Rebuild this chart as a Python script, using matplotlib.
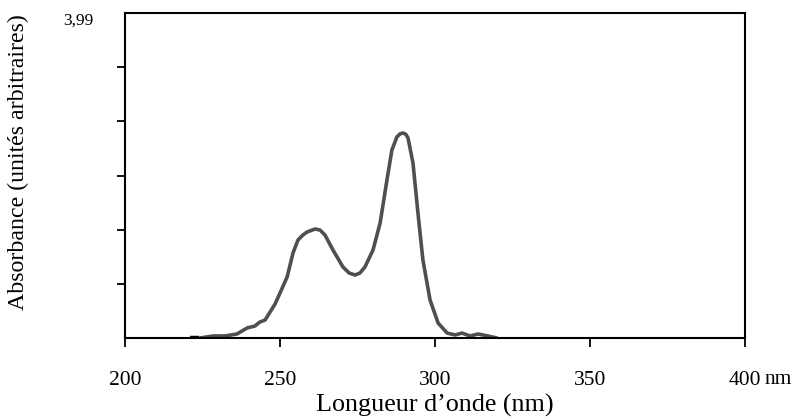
import matplotlib
matplotlib.use("Agg")
import matplotlib.pyplot as plt
from matplotlib.transforms import blended_transform_factory

# Data
wavelength = [224.2, 228.4, 232.3, 236.1, 239.4, 241.9, 243.5, 245.2, 246.8, 248.4,
              250.0, 252.3, 254.2, 255.8, 257.4, 258.7, 261.3, 262.9, 264.5, 267.1,
              270.3, 272.3, 274.2, 275.8, 277.4, 280.0, 282.3, 284.5, 286.1, 287.7,
              288.7, 289.7, 290.6, 291.3, 292.9, 294.5, 296.1, 298.4, 301.0, 303.9,
              306.5, 308.7, 311.3, 313.9, 317.1, 320.0]
absorbance = [0.000, 0.025, 0.025, 0.049, 0.123, 0.147, 0.196, 0.221, 0.319, 0.417,
              0.552, 0.749, 1.044, 1.203, 1.265, 1.301, 1.338, 1.326, 1.265, 1.080,
              0.872, 0.798, 0.773, 0.798, 0.872, 1.080, 1.412, 1.940, 2.308, 2.468,
              2.505, 2.517, 2.500, 2.455, 2.148, 1.535, 0.958, 0.467, 0.184, 0.061,
              0.037, 0.061, 0.025, 0.049, 0.025, 0.000]
start_mark_x = [221.0, 223.8]
start_mark_y = [0.0, 0.0]

x_ticks = [200, 250, 300, 350, 400]
x_tick_labels = ["200", "250", "300", "350", "400"]
y_max = 3.99
y_ticks = [y_max * k / 6 for k in range(1, 6)]

plt.rcParams['font.family'] = ['Liberation Serif', 'DejaVu Serif']

fig = plt.figure(figsize=(7.92, 4.18), dpi=100)
ax = fig.add_axes([125 / 792, 80 / 418, 620 / 792, 325 / 418])

ax.plot(wavelength, absorbance, color='#4f4f4f', lw=2.6, solid_joinstyle='round',
        solid_capstyle='round')
ax.plot(start_mark_x, start_mark_y, color='black', lw=3.2, solid_capstyle='butt')

ax.set_xlim(200, 400)
ax.set_ylim(0, y_max)

ax.set_xticks(x_ticks)
ax.set_xticklabels(x_tick_labels, fontsize=15.5)
ax.set_yticks(y_ticks)
ax.set_yticklabels([])
ax.tick_params(axis='x', direction='out', length=6.5, width=1.3, pad=17)
ax.tick_params(axis='y', direction='out', length=6, width=1.3)

for s in ax.spines.values():
    s.set_linewidth(1.5)

trans = blended_transform_factory(ax.transData, ax.transAxes)
ax.annotate("nm", xy=(400, 0), xycoords=trans, xytext=(20, -41.5),
            textcoords='offset pixels', fontsize=15.5, ha='left', va='center')

fig.text(78 / 792, 1 - 21 / 418, "3,99", fontsize=12.5, ha='center', va='center')

ax.set_xlabel("Longueur d\u2019onde (nm)", fontsize=18.8, labelpad=3)
fig.text(18 / 792, 1 - 162 / 418, "Absorbance (unités arbitraires)", fontsize=17.2,
         rotation=90, ha='center', va='center')

fig.savefig("out.png", dpi=100)
